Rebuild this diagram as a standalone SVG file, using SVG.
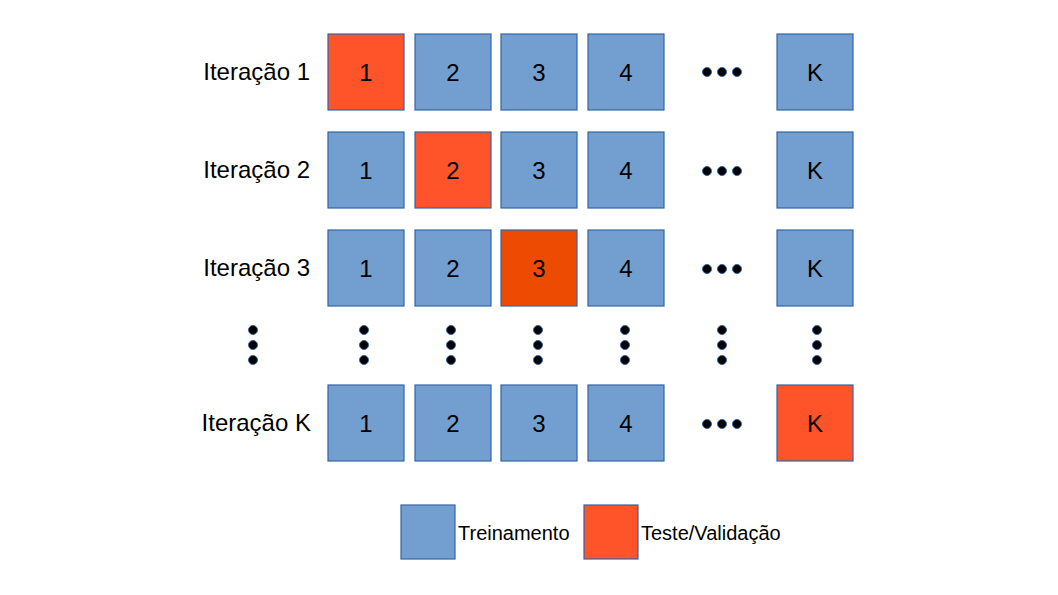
<svg xmlns="http://www.w3.org/2000/svg" width="1058" height="595" viewBox="0 0 1058 595">
<style>
text{font-family:"Liberation Sans",Arial,sans-serif;fill:#000}
.b{fill:#729fcf;stroke:#3465a4;stroke-width:1.2}
.o{fill:#ff5429;stroke:#3465a4;stroke-width:1.2}
.o2{fill:#ee4b02;stroke:#3465a4;stroke-width:1.2}
.n{font-size:24px;text-anchor:middle}
.lbl{font-size:24px;text-anchor:end}
.leg{font-size:20px}
.d{fill:#000;stroke:#3465a4;stroke-width:1}
</style>
<rect width="1058" height="595" fill="#fff"/>
<g id="row1">
<text class="lbl" x="310" y="80">Iteração 1</text>
<rect class="o" x="328" y="34" width="76" height="76"/><text class="n" x="366" y="81">1</text>
<rect class="b" x="415" y="34" width="76" height="76"/><text class="n" x="453" y="81">2</text>
<rect class="b" x="501" y="34" width="76" height="76"/><text class="n" x="539" y="81">3</text>
<rect class="b" x="588" y="34" width="76" height="76"/><text class="n" x="626" y="81">4</text>
<circle class="d" cx="707" cy="72" r="4.5"/><circle class="d" cx="722" cy="72" r="4.5"/><circle class="d" cx="737" cy="72" r="4.5"/>
<rect class="b" x="777" y="34" width="76" height="76"/><text class="n" x="815" y="81">K</text>
</g>
<g id="row2">
<text class="lbl" x="310" y="178">Iteração 2</text>
<rect class="b" x="328" y="132" width="76" height="76"/><text class="n" x="366" y="179">1</text>
<rect class="o" x="415" y="132" width="76" height="76"/><text class="n" x="453" y="179">2</text>
<rect class="b" x="501" y="132" width="76" height="76"/><text class="n" x="539" y="179">3</text>
<rect class="b" x="588" y="132" width="76" height="76"/><text class="n" x="626" y="179">4</text>
<circle class="d" cx="707" cy="171" r="4.5"/><circle class="d" cx="722" cy="171" r="4.5"/><circle class="d" cx="737" cy="171" r="4.5"/>
<rect class="b" x="777" y="132" width="76" height="76"/><text class="n" x="815" y="179">K</text>
</g>
<g id="row3">
<text class="lbl" x="310" y="276">Iteração 3</text>
<rect class="b" x="328" y="230" width="76" height="76"/><text class="n" x="366" y="277">1</text>
<rect class="b" x="415" y="230" width="76" height="76"/><text class="n" x="453" y="277">2</text>
<rect class="o2" x="501" y="230" width="76" height="76"/><text class="n" x="539" y="277">3</text>
<rect class="b" x="588" y="230" width="76" height="76"/><text class="n" x="626" y="277">4</text>
<circle class="d" cx="707" cy="269" r="4.5"/><circle class="d" cx="722" cy="269" r="4.5"/><circle class="d" cx="737" cy="269" r="4.5"/>
<rect class="b" x="777" y="230" width="76" height="76"/><text class="n" x="815" y="277">K</text>
</g>
<g id="vdots">
<circle class="d" cx="253" cy="330" r="4.5"/><circle class="d" cx="253" cy="345" r="4.5"/><circle class="d" cx="253" cy="360" r="4.5"/>
<circle class="d" cx="364" cy="330" r="4.5"/><circle class="d" cx="364" cy="345" r="4.5"/><circle class="d" cx="364" cy="360" r="4.5"/>
<circle class="d" cx="451" cy="330" r="4.5"/><circle class="d" cx="451" cy="345" r="4.5"/><circle class="d" cx="451" cy="360" r="4.5"/>
<circle class="d" cx="538" cy="330" r="4.5"/><circle class="d" cx="538" cy="345" r="4.5"/><circle class="d" cx="538" cy="360" r="4.5"/>
<circle class="d" cx="625" cy="330" r="4.5"/><circle class="d" cx="625" cy="345" r="4.5"/><circle class="d" cx="625" cy="360" r="4.5"/>
<circle class="d" cx="722" cy="330" r="4.5"/><circle class="d" cx="722" cy="345" r="4.5"/><circle class="d" cx="722" cy="360" r="4.5"/>
<circle class="d" cx="817" cy="330" r="4.5"/><circle class="d" cx="817" cy="345" r="4.5"/><circle class="d" cx="817" cy="360" r="4.5"/>
</g>
<g id="rowK">
<text class="lbl" x="311" y="431">Iteração K</text>
<rect class="b" x="328" y="385" width="76" height="76"/><text class="n" x="366" y="432">1</text>
<rect class="b" x="415" y="385" width="76" height="76"/><text class="n" x="453" y="432">2</text>
<rect class="b" x="501" y="385" width="76" height="76"/><text class="n" x="539" y="432">3</text>
<rect class="b" x="588" y="385" width="76" height="76"/><text class="n" x="626" y="432">4</text>
<circle class="d" cx="707" cy="424" r="4.5"/><circle class="d" cx="722" cy="424" r="4.5"/><circle class="d" cx="737" cy="424" r="4.5"/>
<rect class="o" x="777" y="385" width="76" height="76"/><text class="n" x="815" y="432">K</text>
</g>
<g id="legend">
<rect class="b" x="401" y="505" width="54" height="54"/><text class="leg" x="458" y="540">Treinamento</text>
<rect class="o" x="584" y="505" width="54" height="54"/><text class="leg" x="641" y="540">Teste/Validação</text>
</g>
<g id="connectors"/>
</svg>
